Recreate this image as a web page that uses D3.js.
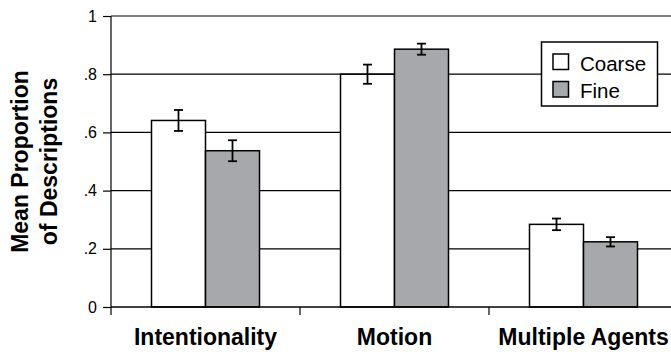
<!DOCTYPE html>
<html>
<head>
<meta charset="utf-8">
<script src="https://cdn.jsdelivr.net/npm/d3@7"></script>
<style>
  body { margin: 0; background: #fff; }
  svg { display: block; font-family: "Liberation Sans", Arial, sans-serif; }
</style>
</head>
<body>
<script>
// data
const categories = ['Intentionality', 'Motion', 'Multiple Agents']
const seriesNames = ['Coarse', 'Fine']
const coarseValues = [0.641, 0.80, 0.284]
const fineValues = [0.537, 0.886, 0.224]
const coarseErrors = [0.036, 0.033, 0.020]
const fineErrors = [0.036, 0.019, 0.016]
const yTicks = [0, 0.2, 0.4, 0.6, 0.8, 1]
const yTickLabels = ['0', '.2', '.4', '.6', '.8', '1']

const width = 671, height = 352
const margin = { top: 16, left: 111, bottom: 307, right: 678 }
const colors = { Coarse: '#ffffff', Fine: '#a7a8ab' }

const svg = d3.select('body').append('svg')
    .attr('width', width)
    .attr('height', height)

// scales
const xScale = d3.scaleBand()
    .domain(categories)
    .range([margin.left, margin.right])

const xInner = d3.scaleBand()
    .domain(seriesNames)
    .range([40.5, 148.5])

const yScale = d3.scaleLinear()
    .domain([0, 1])
    .range([margin.bottom, margin.top])

// gridlines (behind bars)
svg.append('g')
    .selectAll('line')
    .data(yTicks.slice(1))
    .enter()
    .append('line')
    .attr('x1', margin.left)
    .attr('x2', margin.right)
    .attr('y1', d => yScale(d))
    .attr('y2', d => yScale(d))
    .attr('stroke', '#000')
    .attr('stroke-width', 1.2)

// y axis
const yAxis = svg.append('g')
    .attr('transform', 'translate(' + margin.left + ',0)')
    .call(d3.axisLeft(yScale)
        .tickValues(yTicks)
        .tickSize(8)
        .tickPadding(6)
        .tickFormat((d, i) => yTickLabels[i]))
yAxis.select('.domain').attr('stroke', '#000').attr('stroke-width', 1.2)
    .attr('d', 'M0,' + (margin.bottom + 8) + 'V' + margin.top)
yAxis.selectAll('.tick line').attr('stroke-width', 1.2)
yAxis.selectAll('.tick text')
    .style('font-size', '16px')
    .style('font-family', '"Liberation Sans", Arial, sans-serif')
    .attr('fill', '#000')

// rows of data for bars
const rows = categories.map((c, i) => ({
    category: c,
    values: [
        { name: 'Coarse', value: coarseValues[i], err: coarseErrors[i] },
        { name: 'Fine', value: fineValues[i], err: fineErrors[i] }
    ]
}))

const groups = svg.selectAll('.group')
    .data(rows)
    .enter()
    .append('g')
    .attr('transform', d => 'translate(' + xScale(d.category) + ',0)')

groups.selectAll('rect')
    .data(d => d.values)
    .enter()
    .append('rect')
    .attr('x', d => xInner(d.name))
    .attr('width', xInner.bandwidth())
    .attr('y', d => yScale(d.value))
    .attr('height', d => yScale(0) - yScale(d.value))
    .attr('fill', d => colors[d.name])
    .attr('stroke', '#000')
    .attr('stroke-width', 1.5)

// error bars
const errs = groups.selectAll('.err')
    .data(d => d.values)
    .enter()
    .append('g')
    .attr('stroke', '#000')
    .attr('stroke-width', 1.8)
errs.append('line')
    .attr('x1', d => xInner(d.name) + xInner.bandwidth() / 2)
    .attr('x2', d => xInner(d.name) + xInner.bandwidth() / 2)
    .attr('y1', d => yScale(d.value + d.err))
    .attr('y2', d => yScale(d.value - d.err))
errs.selectAll('.cap')
    .data(d => [d.value + d.err, d.value - d.err].map(v => ({ name: d.name, v: v })))
    .enter()
    .append('line')
    .attr('x1', d => xInner(d.name) + xInner.bandwidth() / 2 - 4.5)
    .attr('x2', d => xInner(d.name) + xInner.bandwidth() / 2 + 4.5)
    .attr('y1', d => yScale(d.v))
    .attr('y2', d => yScale(d.v))

// x axis
const xAxis = svg.append('g')
    .attr('transform', 'translate(0,' + margin.bottom + ')')
    .call(d3.axisBottom(xScale).tickSize(0).tickPadding(22))
xAxis.select('.domain').attr('stroke', '#000').attr('stroke-width', 1.5)
    .attr('d', 'M' + margin.left + ',0H' + margin.right)
xAxis.selectAll('.tick text')
    .style('font-size', '23px')
    .style('font-weight', 'bold')
    .style('font-family', '"Liberation Sans", Arial, sans-serif')
    .attr('fill', '#000')

// category separator ticks
svg.append('g')
    .selectAll('line')
    .data(categories.slice(1))
    .enter()
    .append('line')
    .attr('x1', d => xScale(d))
    .attr('x2', d => xScale(d))
    .attr('y1', margin.bottom)
    .attr('y2', margin.bottom + 8)
    .attr('stroke', '#000')
    .attr('stroke-width', 1.2)

// y axis title
const yTitle = svg.append('text')
    .attr('transform', 'translate(28,' + ((margin.top + margin.bottom) / 2) + ') rotate(-90)')
    .attr('text-anchor', 'middle')
    .style('font-size', '23px')
    .style('font-weight', 'bold')
yTitle.append('tspan').attr('x', 0).attr('y', 0).text('Mean Proportion')
yTitle.append('tspan').attr('x', 0).attr('y', 29).text('of Descriptions')

// legend
const legend = svg.append('g')
legend.append('rect')
    .attr('x', 541.5)
    .attr('y', 42)
    .attr('width', 116)
    .attr('height', 64)
    .attr('fill', '#fff')
    .attr('stroke', '#000')
    .attr('stroke-width', 1.5)
const items = legend.selectAll('.item')
    .data(seriesNames)
    .enter()
    .append('g')
    .attr('transform', (d, i) => 'translate(553,' + (54 + i * 27.5) + ')')
items.append('rect')
    .attr('width', 15.5)
    .attr('height', 15.5)
    .attr('fill', d => colors[d])
    .attr('stroke', '#000')
    .attr('stroke-width', 1.5)
items.append('text')
    .attr('x', 27)
    .attr('y', 16.5)
    .style('font-size', '20.5px')
    .text(d => d)
</script>
</body>
</html>
